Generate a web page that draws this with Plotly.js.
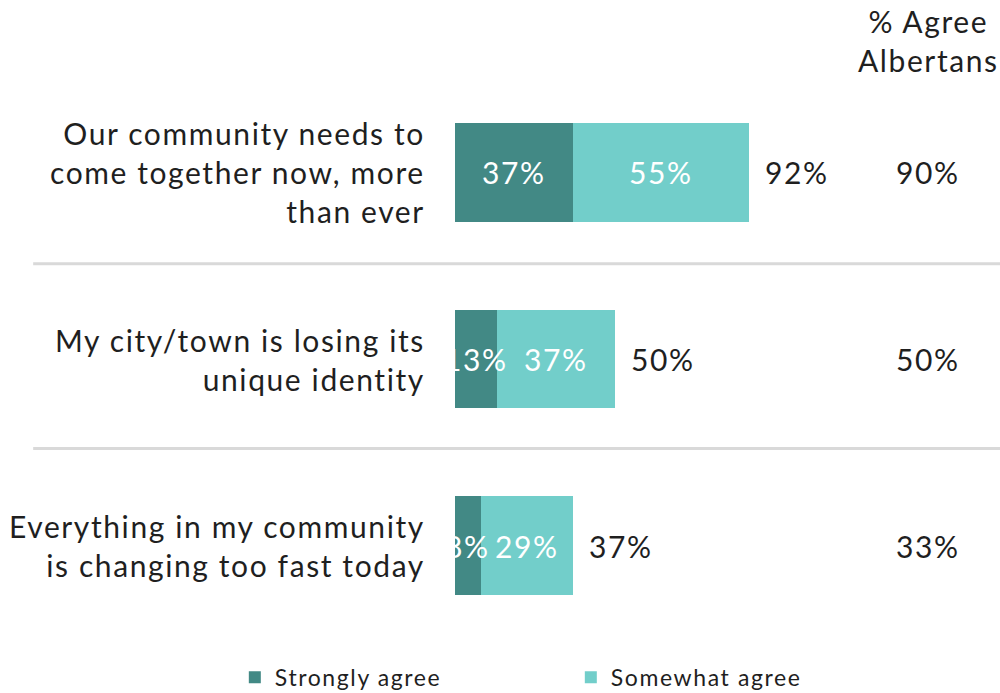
<!DOCTYPE html>
<html>
<head>
<meta charset="utf-8">
<script src="https://cdn.plot.ly/plotly-3.0.1.min.js"></script>
<style>
html,body{margin:0;padding:0;background:#fff;}
#chart{width:1000px;height:693px;}
svg text{letter-spacing:1.6px;}
</style>
</head>
<body>
<div id="chart"></div>
<script>
const categories = [
  "Our community needs to<br>come together now, more<br>than ever",
  "My city/town is losing its<br>unique identity",
  "Everything in my community<br>is changing too fast today"
];
const stronglyAgree = [37, 13, 8];
const somewhatAgree = [55, 37, 29];
const totalAgree = [92, 50, 37];
const albertansAgree = [90, 50, 33];
const seriesNames = ["Strongly agree", "Somewhat agree"];
const columnHeader = "% Agree<br>Albertans";

const FONT = "Lato, 'Open Sans', sans-serif";
const DARK = "#428985";
const LIGHT = "#72CECA";
const TEXT = "#1f1f1f";

const traces = [
  {type: "bar", orientation: "h", name: seriesNames[0], y: categories, x: stronglyAgree,
   marker: {color: DARK}, hoverinfo: "none"},
  {type: "bar", orientation: "h", name: seriesNames[1], y: categories, x: somewhatAgree,
   marker: {color: LIGHT}, hoverinfo: "none"}
];

const annotations = [];
categories.forEach((c, i) => {
  annotations.push({xref: "paper", x: 0, xshift: -28, y: c, yref: "y", text: c, showarrow: false,
    xanchor: "right", align: "right", font: {family: FONT, size: 30, color: TEXT}});
  annotations.push({x: stronglyAgree[i] / 2, y: c, text: stronglyAgree[i] + "%", showarrow: false,
    xanchor: "center", font: {family: FONT, size: 30, color: "#ffffff"}});
  annotations.push({x: stronglyAgree[i] + somewhatAgree[i] / 2, y: c, text: somewhatAgree[i] + "%", showarrow: false,
    xanchor: "center", font: {family: FONT, size: 30, color: "#ffffff"}});
  annotations.push({x: totalAgree[i], xshift: 14, y: c, text: totalAgree[i] + "%", showarrow: false,
    xanchor: "left", font: {family: FONT, size: 30, color: TEXT}});
  annotations.push({xref: "paper", x: 0.868, y: c, text: albertansAgree[i] + "%", showarrow: false,
    xanchor: "center", font: {family: FONT, size: 30, color: TEXT}});
});
annotations.push({xref: "paper", yref: "paper", x: 0.868, y: 1, yshift: -1, text: columnHeader, showarrow: false,
  xanchor: "center", yanchor: "bottom", align: "center", font: {family: FONT, size: 30, color: TEXT}});

const shapes = [0.49, 1.48].map(v => ({
  type: "line", xref: "paper", x0: -0.774, x1: 1, yref: "y", y0: v, y1: v,
  line: {color: "#d9d9d9", width: 3}
}));

const layout = {
  width: 1000, height: 693,
  margin: {l: 455, r: 0, t: 78.5, b: 53.5, autoexpand: false},
  barmode: "stack",
  bargap: 0.47,
  paper_bgcolor: "#ffffff", plot_bgcolor: "#ffffff",
  showlegend: true,
  legend: {orientation: "h", x: -0.404, xanchor: "left", y: -0.0686, yanchor: "middle",
    entrywidth: 291, entrywidthmode: "pixels", traceorder: "normal",
    font: {family: FONT, size: 23, color: TEXT}},
  xaxis: {range: [0, 170.3], visible: false, fixedrange: true},
  yaxis: {type: "category", autorange: "reversed", showticklabels: false, showgrid: false,
    zeroline: false, fixedrange: true},
  annotations: annotations,
  shapes: shapes
};

Plotly.newPlot("chart", traces, layout, {displayModeBar: false, staticPlot: true});
</script>
</body>
</html>
